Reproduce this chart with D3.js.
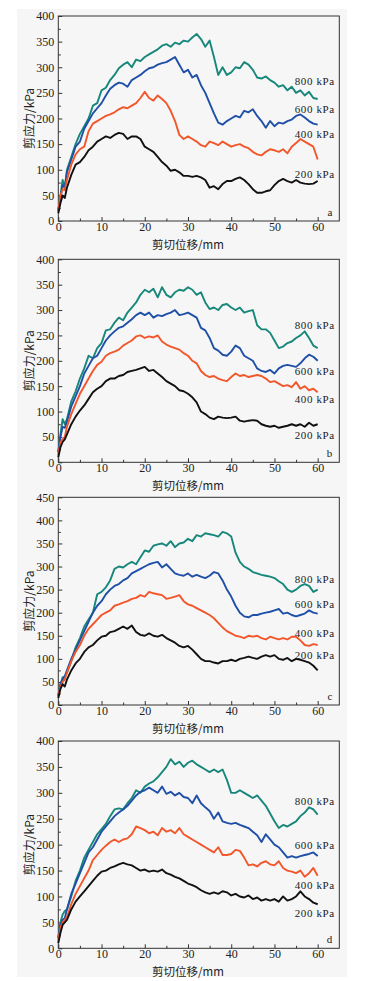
<!DOCTYPE html>
<html>
<head>
<meta charset="utf-8">
<script src="https://cdnjs.cloudflare.com/ajax/libs/d3/7.8.5/d3.min.js"></script>
<style>
body{margin:0;background:#fff;}
svg text{font-family:"Liberation Serif","DejaVu Serif",serif;fill:#222;}
.cjk{font-family:"Noto Sans CJK SC",sans-serif;}
</style>
</head>
<body>
<svg id="chart"></svg>
<script>
// shear displacement (mm)
const disp = [0,0.5,1,1.5,2,3,4,5,6,7,8,9,10,11,12,13,14,15,16,17,18,19,20,21,22,23,24,25,26,27,28,29,30,
  31,32,33,34,35,36,37,38,39,40,41,42,43,44,45,46,47,48,49,50,51,52,53,54,55,56,57,58,59,60];

const loads = ["800 kPa","600 kPa","400 kPa","200 kPa"];
const colors = ["#16877a","#1f4fa6","#f2562b","#111111"];
const panelTags = ["a","b","c","d"];
const xTicks = [0,10,20,30,40,50,60];

// panel a
const a800 = [20,50,80,65,100, 125,150,170,185,200,225,230,255, 260,275,285,298,305,310,300,315,312,320, 325,330,335,342,345,340,348,345,352,350, 358,365,355,340,352,320,285,300,285,290, 300,298,310,305,295,280,278,282,275,270, 262,265,255,262,250,255,245,252,240,238];
const a600 = [20,45,70,65,95, 120,145,155,180,195,210,220,230, 245,258,265,270,268,262,275,280,285,292, 298,300,305,308,310,315,320,305,290,295, 280,285,265,250,230,210,192,188,195,200, 205,202,215,212,218,205,195,182,195,185, 192,190,195,198,205,208,202,195,190,188];
const a400 = [20,50,62,60,80, 110,130,140,145,175,190,195,200, 205,208,212,218,222,220,225,230,240,252, 240,235,245,238,230,215,195,168,160,165, 160,155,148,145,155,152,148,155,150,145, 148,150,145,142,135,130,128,135,140,138, 135,140,132,145,152,160,155,150,145,120];
const a200 = [15,35,50,45,65, 90,110,115,125,138,145,155,160, 165,162,168,172,170,160,165,165,160,145, 140,135,125,115,108,98,100,95,88,88, 86,88,85,80,65,68,62,72,78,78, 82,85,80,72,62,55,55,58,60,70, 78,82,78,75,80,75,73,72,73,78];
// panel b
const b800 = [20,55,85,75,85, 120,140,165,185,210,205,225,235, 260,262,275,285,280,295,305,315,330,340, 335,342,325,345,330,325,335,340,338,345, 340,330,335,315,302,305,300,310,312,305, 300,305,295,298,300,270,262,262,255,240, 225,228,235,238,245,250,258,245,230,225];
const b600 = [20,50,70,68,80, 110,130,150,175,190,205,210,225, 240,250,258,265,268,275,282,290,295,290, 295,285,290,288,292,295,300,290,292,295, 290,285,265,260,245,225,220,212,210,218, 230,225,210,205,200,185,180,178,182,175, 185,190,192,190,188,195,205,212,208,200];
const b400 = [15,40,45,50,70, 95,115,135,150,165,180,192,198, 210,215,218,222,230,235,240,248,250,245, 248,246,250,238,232,228,225,222,215,210, 200,195,180,172,168,170,165,162,160,168, 175,170,172,168,170,172,170,165,158,160, 155,150,152,148,158,145,150,142,145,138];
const b200 = [10,30,40,45,55, 75,90,102,112,125,138,145,150, 160,165,165,170,172,178,180,182,185,188, 180,182,175,168,160,155,150,142,140,135, 128,118,100,95,88,85,90,88,87,88, 90,82,80,82,83,82,75,72,70,72, 68,70,72,75,72,75,70,78,72,75];
// panel c
const c800 = [20,45,60,62,70, 95,125,145,170,185,200,240,245, 255,270,295,300,298,305,310,305,320,335, 332,345,348,350,345,355,342,350,352,360, 355,368,365,372,370,368,365,375,372,365, 330,310,300,295,288,285,282,280,278,275, 268,262,250,245,250,258,262,258,245,250];
const c600 = [20,45,55,62,75, 100,120,140,160,180,200,215,225, 240,250,258,262,270,275,285,290,295,300, 305,308,310,298,305,295,285,282,280,285, 278,282,278,275,280,288,285,270,250,235, 215,200,192,190,195,195,198,200,202,205, 208,198,200,195,192,195,198,205,200,198];
const c400 = [20,40,50,55,70, 95,115,130,150,165,175,185,195, 200,205,215,218,222,225,230,232,238,235, 245,242,240,238,230,232,235,238,225,218, 215,210,205,200,195,188,178,168,160,155, 150,148,145,150,148,150,145,142,148,145, 142,145,142,148,148,140,130,128,132,130];
const c200 = [15,35,45,40,55, 75,90,100,115,125,130,140,148, 150,158,160,165,170,165,172,158,152,150, 155,150,148,152,145,140,135,128,125,128, 120,110,100,95,95,92,90,95,95,98, 95,100,102,105,102,100,105,108,105,108, 100,98,102,95,100,98,95,92,85,75];
// panel d
const d800 = [20,50,65,72,75, 100,130,150,175,190,205,220,230, 240,255,268,270,268,280,290,305,300,312, 318,322,330,340,350,365,355,360,350,358, 362,355,350,345,340,345,340,345,325,300, 300,305,300,295,290,295,285,275,260,245, 232,238,235,240,245,255,262,272,268,258];
const d600 = [20,45,55,58,75, 105,125,145,165,185,195,210,225, 235,245,255,262,268,275,285,295,302,305, 310,305,300,312,298,302,295,300,292,290, 280,295,280,272,265,250,262,245,242,240, 242,238,235,232,225,218,205,220,210,200, 195,185,175,178,175,178,180,182,185,178];
const d400 = [15,40,50,55,60, 85,105,120,135,150,170,180,190, 198,205,210,205,210,212,220,235,232,228, 222,225,218,232,225,228,222,232,220,215, 210,205,200,195,190,185,195,180,180,182, 190,188,175,160,162,158,165,168,162,160, 168,155,150,148,145,150,138,145,155,140];
const d200 = [10,30,45,50,55, 75,90,100,110,120,130,140,148, 150,155,158,162,165,162,160,155,150,152, 148,150,148,152,145,142,138,135,130,125, 122,118,112,108,105,108,105,110,108,102, 105,100,98,102,95,98,92,95,92,95, 90,100,92,95,100,110,100,95,88,85];

// label heights (kPa) for 800/600/400/200 in each panel
const aLabelY = [273,218,169,92];
const bLabelY = [271,179,124,54];
const cLabelY = [274,219,155,108];
const dLabelY = [284,199,122,68];

const yMaxes = [400,400,450,400];

const panels = [
  {series:[a800,a600,a400,a200], labelY:aLabelY, top:16, bottom:221},
  {series:[b800,b600,b400,b200], labelY:bLabelY, top:259.3, bottom:462.3},
  {series:[c800,c600,c400,c200], labelY:cLabelY, top:497.3, bottom:705},
  {series:[d800,d600,d400,d200], labelY:dLabelY, top:741, bottom:948.3}
];

const W = 376, H = 981;
const left = 58.3, right = 339.3;

const svg = d3.select("#chart").attr("width",W).attr("height",H);
svg.append("rect").attr("x",17).attr("y",9).attr("width",330).attr("height",968).attr("fill","#f6f6f6");

const x = d3.scaleLinear().domain([0,65]).range([left,right]);

panels.forEach((p,pi)=>{
  const yMax = yMaxes[pi];
  const y = d3.scaleLinear().domain([0,yMax]).range([p.bottom,p.top]);
  const g = svg.append("g");

  // frame
  g.append("rect").attr("x",left).attr("y",p.top).attr("width",right-left).attr("height",p.bottom-p.top)
    .attr("fill","none").attr("stroke","#333").attr("stroke-width",1);

  // minor ticks
  let yMinor = d3.range(25,yMax,50);
  g.append("g").attr("transform","translate("+left+",0)")
    .call(d3.axisLeft(y).tickValues(yMinor).tickSize(-2.5).tickFormat(""))
    .call(s=>s.select(".domain").remove());
  g.append("g").attr("transform","translate(0,"+p.bottom+")")
    .call(d3.axisBottom(x).tickValues([5,15,25,35,45,55]).tickSize(-2.5).tickFormat(""))
    .call(s=>s.select(".domain").remove());

  // major ticks
  g.append("g").attr("transform","translate("+left+",0)")
    .call(d3.axisLeft(y).tickValues(d3.range(0,yMax+1,50)).tickSize(-4).tickPadding(4))
    .call(s=>s.select(".domain").remove());
  g.append("g").attr("transform","translate(0,"+p.bottom+")")
    .call(d3.axisBottom(x).tickValues(xTicks).tickSize(-4).tickPadding(1.5))
    .call(s=>s.select(".domain").remove());
  g.selectAll(".tick line").attr("stroke","#333");
  g.selectAll(".tick text").attr("font-size",12).attr("fill","#222")
    .style("font-family","'Liberation Serif',serif");

  // curves
  const line = d3.line().x((d,i)=>x(disp[i])).y(d=>y(d));
  [0,1,2,3].forEach(si=>{
    g.append("path").datum(p.series[si]).attr("d",line)
      .attr("fill","none").attr("stroke",colors[si]).attr("stroke-width",1.9)
      .attr("stroke-linejoin","round");
  });

  // load labels
  loads.forEach((t,si)=>{
    g.append("text").attr("x",x(54.7)).attr("y",y(p.labelY[si]))
      .attr("dominant-baseline","central").attr("font-size",11).attr("letter-spacing",0.6)
      .text(t);
  });

  // panel tag
  g.append("text").attr("x",right-7).attr("y",p.bottom-9).attr("text-anchor","end")
    .attr("dominant-baseline","central").attr("font-size",11).text(panelTags[pi]);

  // axis titles
  g.append("text").attr("class","cjk").attr("x",x(30)).attr("y",p.bottom+23)
    .attr("text-anchor","middle").attr("dominant-baseline","central").attr("font-size",11.5)
    .text("剪切位移/mm");
  g.append("text").attr("class","cjk")
    .attr("transform","translate(28,"+((p.top+p.bottom)/2)+") rotate(-90)")
    .attr("text-anchor","middle").attr("dominant-baseline","central").attr("font-size",12)
    .text("剪应力/kPa");
});
</script>
</body>
</html>
